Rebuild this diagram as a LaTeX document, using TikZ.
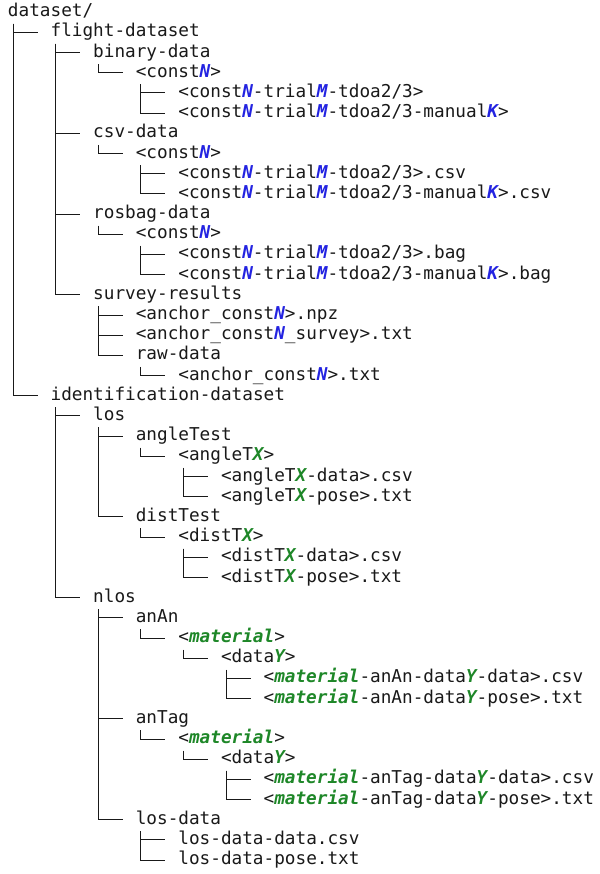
\documentclass[tikz,border=0pt]{standalone}
\usepackage{fontspec}
\newfontfamily\codefont{DejaVu Sans Mono}
\definecolor{txt}{RGB}{25,25,25}
\definecolor{vblue}{RGB}{35,35,225}
\definecolor{vgreen}{RGB}{30,135,40}
\newcommand\VB[1]{{\bfseries\itshape\color{vblue}#1}}
\newcommand\VG[1]{{\bfseries\itshape\color{vgreen}#1}}
\newcommand\entry[4]{\node[item] (#1) at ({8+#2*42.6},{874-12.2-(#3-1)*20.19}) {#4};}
\newcommand\link[2]{\draw[conn] ([shift={(5pt,-3pt)}]#1.south west) |- ([xshift=-13pt]#2.west);}
\begin{document}
\begin{tikzpicture}[x=1pt,y=1pt,
  item/.style={anchor=west,inner sep=0pt,outer sep=0pt,text height=13pt,text depth=4pt,
    font=\codefont\fontsize{17.7}{20}\selectfont,text=txt},
  conn/.style={draw=txt,line width=1pt}]
\useasboundingbox[fill=white] (0,0) rectangle (599,874);
\entry{root}{0}{1}{dataset/}
\entry{fd}{1}{2}{flight-dataset}
\entry{bd}{2}{3}{binary-data}
\entry{bdc}{3}{4}{<const\VB{N}>}
\entry{bdA}{4}{5}{<const\VB{N}-trial\VB{M}-tdoa2/3>}
\entry{bdB}{4}{6}{<const\VB{N}-trial\VB{M}-tdoa2/3-manual\VB{K}>}
\entry{cd}{2}{7}{csv-data}
\entry{cdc}{3}{8}{<const\VB{N}>}
\entry{cdA}{4}{9}{<const\VB{N}-trial\VB{M}-tdoa2/3>.csv}
\entry{cdB}{4}{10}{<const\VB{N}-trial\VB{M}-tdoa2/3-manual\VB{K}>.csv}
\entry{rd}{2}{11}{rosbag-data}
\entry{rdc}{3}{12}{<const\VB{N}>}
\entry{rdA}{4}{13}{<const\VB{N}-trial\VB{M}-tdoa2/3>.bag}
\entry{rdB}{4}{14}{<const\VB{N}-trial\VB{M}-tdoa2/3-manual\VB{K}>.bag}
\entry{sr}{2}{15}{survey-results}
\entry{srA}{3}{16}{<anchor\_const\VB{N}>.npz}
\entry{srB}{3}{17}{<anchor\_const\VB{N}\_survey>.txt}
\entry{raw}{3}{18}{raw-data}
\entry{rawA}{4}{19}{<anchor\_const\VB{N}>.txt}
\entry{id}{1}{20}{identification-dataset}
\entry{los}{2}{21}{los}
\entry{at}{3}{22}{angleTest}
\entry{atx}{4}{23}{<angleT\VG{X}>}
\entry{atA}{5}{24}{<angleT\VG{X}-data>.csv}
\entry{atB}{5}{25}{<angleT\VG{X}-pose>.txt}
\entry{dt}{3}{26}{distTest}
\entry{dtx}{4}{27}{<distT\VG{X}>}
\entry{dtA}{5}{28}{<distT\VG{X}-data>.csv}
\entry{dtB}{5}{29}{<distT\VG{X}-pose>.txt}
\entry{nlos}{2}{30}{nlos}
\entry{an}{3}{31}{anAn}
\entry{anm}{4}{32}{<\VG{material}>}
\entry{any}{5}{33}{<data\VG{Y}>}
\entry{anA}{6}{34}{<\VG{material}-anAn-data\VG{Y}-data>.csv}
\entry{anB}{6}{35}{<\VG{material}-anAn-data\VG{Y}-pose>.txt}
\entry{ag}{3}{36}{anTag}
\entry{agm}{4}{37}{<\VG{material}>}
\entry{agy}{5}{38}{<data\VG{Y}>}
\entry{agA}{6}{39}{<\VG{material}-anTag-data\VG{Y}-data>.csv}
\entry{agB}{6}{40}{<\VG{material}-anTag-data\VG{Y}-pose>.txt}
\entry{ld}{3}{41}{los-data}
\entry{ldA}{4}{42}{los-data-data.csv}
\entry{ldB}{4}{43}{los-data-pose.txt}
\link{root}{fd}
\link{root}{id}
\link{fd}{bd}
\link{fd}{cd}
\link{fd}{rd}
\link{fd}{sr}
\link{bd}{bdc}
\link{bdc}{bdA}
\link{bdc}{bdB}
\link{cd}{cdc}
\link{cdc}{cdA}
\link{cdc}{cdB}
\link{rd}{rdc}
\link{rdc}{rdA}
\link{rdc}{rdB}
\link{sr}{srA}
\link{sr}{srB}
\link{sr}{raw}
\link{raw}{rawA}
\link{id}{los}
\link{id}{nlos}
\link{los}{at}
\link{los}{dt}
\link{at}{atx}
\link{atx}{atA}
\link{atx}{atB}
\link{dt}{dtx}
\link{dtx}{dtA}
\link{dtx}{dtB}
\link{nlos}{an}
\link{nlos}{ag}
\link{nlos}{ld}
\link{an}{anm}
\link{anm}{any}
\link{any}{anA}
\link{any}{anB}
\link{ag}{agm}
\link{agm}{agy}
\link{agy}{agA}
\link{agy}{agB}
\link{ld}{ldA}
\link{ld}{ldB}
\end{tikzpicture}
\end{document}
